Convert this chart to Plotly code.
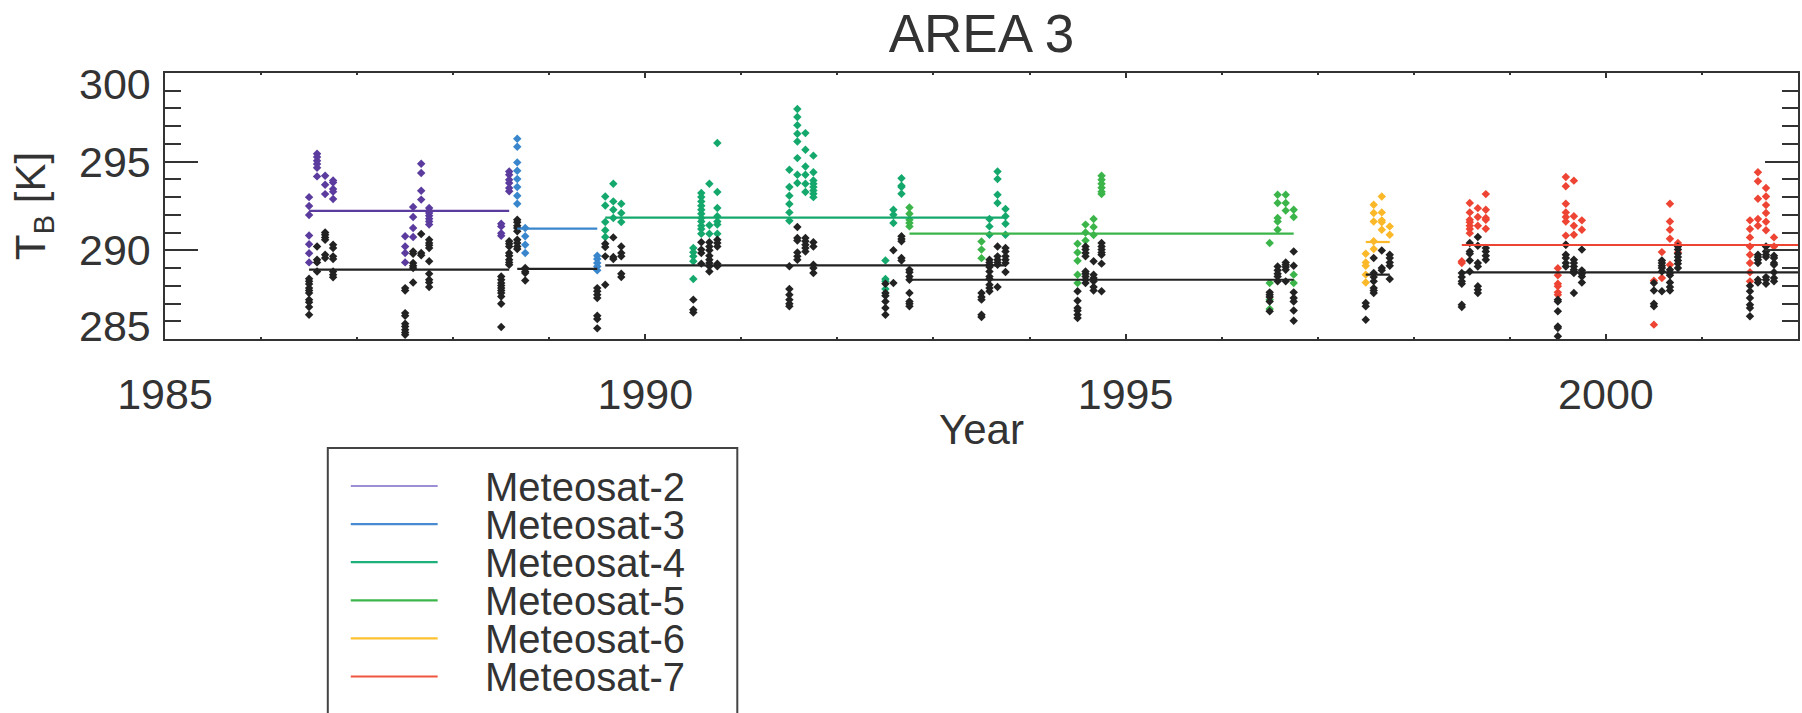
import plotly.graph_objects as go

# ---------------- data ----------------
title_text = "AREA 3"
x_tick_years = [1985, 1990, 1995, 2000]
y_tick_values = [300, 295, 290, 285]

sat_names = ["Meteosat-2", "Meteosat-3", "Meteosat-4", "Meteosat-5", "Meteosat-6", "Meteosat-7"]

# satellite brightness temperatures, one list per monthly column
m2_time = [1986.50, 1986.583, 1986.667, 1986.75, 1987.50, 1987.583, 1987.667, 1987.75, 1988.50, 1988.583]
m2_tb = [
    [293.00, 292.50, 291.99, 290.84, 290.34, 289.83, 289.32],
    [295.45, 295.26, 295.05, 294.87, 294.66, 294.17],
    [294.21, 293.70, 293.17],
    [293.94, 293.83, 293.46, 293.31, 292.89],
    [290.79, 290.22, 289.85, 289.32],
    [292.44, 291.88, 291.26, 290.75],
    [294.88, 294.36, 293.36, 292.86],
    [292.39, 292.23, 292.10, 291.95, 291.78, 291.63, 291.45],
    [291.50, 291.35, 290.97, 290.82],
    [294.45, 294.26, 293.98, 293.80, 293.51, 293.33],
]
m3_time = [1988.667, 1988.75, 1989.50]
m3_tb = [
    [296.29, 295.84, 294.96, 294.49, 294.02, 293.57, 293.08, 292.63],
    [291.26, 290.79, 290.32, 289.85],
    [289.70, 289.51, 289.28, 289.09, 288.87],
]
m4_time = [1989.583, 1989.667, 1989.75, 1990.50, 1990.583, 1990.667, 1990.75,
           1991.50, 1991.583, 1991.667, 1991.75, 1992.50, 1992.583, 1992.667,
           1993.583, 1993.667, 1993.75]
m4_tb = [
    [293.04, 292.53, 291.60, 291.13, 290.75],
    [293.76, 292.76, 292.29, 291.82],
    [292.63, 292.10, 291.60],
    [290.13, 289.89, 289.66, 289.38, 288.38],
    [293.23, 293.01, 292.76, 292.52, 292.29, 292.06, 291.82, 291.63, 291.39, 291.20, 290.94],
    [293.76, 291.41, 290.94],
    [296.05, 293.29, 292.39, 291.92, 291.63, 291.45, 290.94],
    [294.55, 293.57, 293.08, 292.61, 292.14, 291.67],
    [297.97, 297.52, 297.05, 296.58, 296.14, 295.20, 294.26, 293.80],
    [296.61, 295.67, 294.73, 294.26, 293.76, 293.29],
    [295.34, 294.40, 293.94, 293.76, 293.57, 293.38, 293.19, 293.00],
    [289.43, 288.38, 288.25, 287.82],
    [292.29, 292.01, 291.54],
    [294.06, 293.64, 293.57, 293.19],
    [291.77, 291.35, 290.88],
    [294.45, 294.02, 293.14, 292.67],
    [292.33, 291.92, 291.50, 290.88],
]
m5_time = [1992.75, 1993.50, 1994.50, 1994.583, 1994.667, 1994.75,
           1996.50, 1996.583, 1996.667, 1996.75]
m5_tb = [
    [292.42, 292.06, 291.73, 291.54, 291.35],
    [290.50, 290.04, 289.56],
    [290.37, 289.88, 289.41, 288.62, 288.16],
    [291.45, 291.01, 290.56],
    [291.77, 291.31, 290.86],
    [294.21, 293.98, 293.76, 293.53, 293.31, 293.17],
    [290.41, 288.16, 287.22, 286.69],
    [293.14, 292.67, 291.82, 291.63, 291.16],
    [293.14, 292.67, 292.24],
    [292.29, 291.88, 288.63, 288.16],
]
m6_time = [1997.50, 1997.583, 1997.667, 1997.75]
m6_tb = [
    [289.81, 289.32, 289.13, 288.63, 288.19],
    [292.57, 292.10, 291.63, 290.51, 290.07],
    [293.04, 292.14, 291.69, 291.58, 291.16],
    [291.35, 290.88],
]
m7_time = [1998.50, 1998.583, 1998.667, 1998.75, 1999.50, 1999.583, 1999.667, 1999.75,
           2000.50, 2000.583, 2000.667, 2000.75, 2001.50, 2001.583, 2001.667, 2001.75]
m7_tb = [
    [289.38, 289.28],
    [292.67, 292.14, 291.73, 291.58, 291.39, 291.20, 290.97],
    [292.38, 291.88, 291.39],
    [293.17, 292.29, 291.82, 291.73, 291.22],
    [288.99, 288.59, 288.12, 287.97, 287.63, 287.50],
    [294.13, 293.61, 292.63, 292.14, 291.88, 291.63, 290.83, 290.32],
    [293.93, 291.92, 291.39, 290.88],
    [291.69, 291.16],
    [288.29, 285.81],
    [289.90, 288.44],
    [292.63, 291.63, 291.16, 290.65, 289.19],
    [290.41, 289.88],
    [291.69, 291.20, 290.73, 290.22, 289.75, 289.28, 288.76, 288.25],
    [294.40, 293.89, 292.91, 291.77, 291.39],
    [293.51, 293.04, 292.55, 292.10, 291.61, 291.13],
    [290.73, 290.22],
]

# reference (black) values, one list per monthly column
ref_time = [1986.50, 1986.583, 1986.667, 1986.75, 1987.50, 1987.583, 1987.667, 1987.75,
            1988.50, 1988.583, 1988.667, 1988.75, 1989.50, 1989.583, 1989.667, 1989.75,
            1990.50, 1990.583, 1990.667, 1990.75, 1991.50, 1991.583, 1991.667, 1991.75,
            1992.50, 1992.583, 1992.667, 1992.75, 1993.50, 1993.583, 1993.667, 1993.75,
            1994.50, 1994.583, 1994.667, 1994.75, 1996.50, 1996.583, 1996.667, 1996.75,
            1997.50, 1997.583, 1997.667, 1997.75, 1998.50, 1998.583, 1998.667, 1998.75,
            1999.50, 1999.583, 1999.667, 1999.75, 2000.50, 2000.583, 2000.667, 2000.75,
            2001.50, 2001.583, 2001.667, 2001.75]
ref_tb = [
    [288.40, 288.25, 288.10, 287.87, 287.74, 287.59, 287.22, 287.07, 286.80, 286.37],
    [290.22, 289.47, 289.32, 288.81],
    [291.01, 290.88, 290.73, 290.60, 289.75, 289.57],
    [290.32, 290.13, 289.66, 289.51, 288.81, 288.63, 288.48],
    [287.87, 287.74, 286.46, 286.31, 285.86, 285.71, 285.52, 285.37, 285.24],
    [289.94, 289.81, 289.28, 289.13, 289.00, 288.19],
    [290.92, 289.85, 289.72],
    [290.60, 290.41, 290.28, 290.13, 289.38, 288.68, 288.34, 288.19, 287.93],
    [288.53, 288.34, 288.16, 288.01, 287.87, 287.74, 287.59, 287.40, 286.99, 285.68],
    [290.51, 290.37, 290.22, 289.85, 289.70, 289.47, 289.32, 289.19],
    [291.73, 291.58, 291.39, 291.26, 291.07, 290.60, 290.41, 290.22, 290.07],
    [289.00, 288.81, 288.72, 288.30],
    [287.87, 287.69, 287.50, 287.31, 286.31, 286.13, 285.60],
    [290.37, 290.19, 289.66, 288.06],
    [290.73, 289.62, 289.51],
    [290.22, 289.85, 289.66, 288.68, 288.49],
    [287.22, 286.65, 286.50],
    [290.45, 290.04, 289.85, 289.25],
    [290.45, 290.22, 290.00, 289.70, 289.47, 289.28, 289.10, 288.81],
    [290.60, 290.41, 290.22, 289.25, 289.10],
    [289.10, 287.82, 287.50, 287.22, 286.99, 286.84],
    [291.31, 290.69, 290.56, 289.88, 289.66, 289.47],
    [290.69, 290.51, 290.32, 290.13, 289.94],
    [290.45, 290.22, 289.19, 289.00, 288.72],
    [288.12, 287.59, 287.44, 287.12, 286.75, 286.37],
    [290.00, 288.16],
    [290.79, 290.64, 290.51, 289.57, 289.43],
    [288.91, 288.76, 288.53, 288.34, 287.59, 287.12, 286.99, 286.84],
    [287.59, 287.37, 287.22, 286.37, 286.24],
    [289.47, 289.32, 289.19, 289.06, 288.81, 288.53, 288.38, 288.06, 287.87, 287.69],
    [290.22, 289.66, 289.47, 289.32, 289.19, 287.93],
    [290.13, 289.94, 289.66, 289.47, 289.28, 288.78],
    [287.69, 287.16, 286.75, 286.60, 286.37, 286.18],
    [290.22, 290.04, 289.85, 289.66, 288.81, 288.68, 288.53, 288.34, 288.16],
    [289.38, 288.63, 288.44, 288.25, 287.93, 287.74],
    [290.41, 290.22, 290.04, 289.88, 289.75, 289.25, 287.69],
    [287.63, 287.50, 287.37, 287.12, 286.56],
    [289.09, 288.87, 288.68, 288.53, 288.25],
    [289.32, 289.19, 289.06, 288.91, 288.25],
    [289.94, 289.13, 287.63, 287.31, 287.12, 286.61, 286.03],
    [287.03, 286.84, 286.09],
    [289.57, 288.72, 288.49, 288.25, 287.87, 287.74, 287.59],
    [289.99, 289.00, 288.87],
    [289.75, 289.57, 289.32, 289.13, 288.38],
    [288.72, 288.49, 288.25, 288.12, 286.93, 286.80],
    [290.41, 289.94, 289.81, 289.43, 288.81],
    [290.75, 290.26, 289.28, 289.09, 287.97, 287.78, 287.59],
    [290.13, 289.94, 289.70, 289.47],
    [287.22, 287.12, 286.56, 285.71, 285.62, 285.15],
    [290.32, 289.75, 289.57, 289.28, 289.09],
    [289.47, 289.28, 289.09, 288.91, 288.81, 288.72, 287.59],
    [290.04, 288.87, 288.68, 288.53, 288.19],
    [288.16, 287.74, 286.99, 286.84],
    [289.43, 289.28, 289.13, 289.00, 288.81, 287.69],
    [288.91, 288.72, 288.59, 288.19, 287.93, 287.74],
    [290.22, 290.04, 289.81, 289.62, 289.43, 289.25, 289.00],
    [288.00, 287.69, 287.31, 286.93, 286.75, 286.28],
    [289.75, 289.62, 289.47, 289.28, 288.34, 288.19],
    [290.22, 289.94, 289.75, 289.62, 288.49, 288.34, 288.12],
    [289.70, 289.57, 289.28, 289.19, 288.76, 288.44, 288.25],
]

# per-satellite period means (horizontal lines)
seg_start = [1986.50, 1988.667, 1989.583, 1992.75, 1997.50, 1998.50]
seg_end = [1988.583, 1989.50, 1993.75, 1996.75, 1997.75, 2002.0]
sat_mean = [292.23, 291.22, 291.85, 290.94, 290.47, 290.30]
ref_mean = [288.91, 288.96, 289.15, 288.34, 288.63, 288.76]

# ---------------- styling ----------------
sat_colors = ["#5b3c9e", "#3a86cc", "#14a86c", "#3bb54a", "#fbb828", "#ee4433"]
legend_colors = ["#9d8fd4", "#4a8ad0", "#1db07a", "#3cb64a", "#fcc030", "#f0553f"]
ref_color = "#222222"
ink = "#333333"
FONT = "Liberation Sans, Arial, Helvetica, sans-serif"

W, H = 1802, 713
PL, PR, PT, PB = 165, 1800, 73, 339


def xp(px):
    return (px - PL) / (PR - PL)


def yp(py):
    return (PB - py) / (PB - PT)


def flatten(times, vals):
    xs, ys = [], []
    for t, v in zip(times, vals):
        xs += [t] * len(v)
        ys += list(v)
    return xs, ys


fig = go.Figure()

sat_data = [(m2_time, m2_tb), (m3_time, m3_tb), (m4_time, m4_tb),
            (m5_time, m5_tb), (m6_time, m6_tb), (m7_time, m7_tb)]
for name, color, (t, v) in zip(sat_names, sat_colors, sat_data):
    xs, ys = flatten(t, v)
    fig.add_trace(go.Scatter(x=xs, y=ys, mode="markers", name=name, showlegend=False,
                             marker=dict(symbol="diamond", size=6.5, color=color, line=dict(width=0))))

rx, ry = flatten(ref_time, ref_tb)
fig.add_trace(go.Scatter(x=rx, y=ry, mode="markers", name="reference", showlegend=False,
                         marker=dict(symbol="diamond", size=6.5, color=ref_color, line=dict(width=0))))

for i in range(len(sat_names)):
    fig.add_trace(go.Scatter(x=[seg_start[i], seg_end[i]], y=[sat_mean[i]] * 2, mode="lines",
                             showlegend=False, line=dict(color=sat_colors[i], width=2.2)))
    fig.add_trace(go.Scatter(x=[seg_start[i], seg_end[i]], y=[ref_mean[i]] * 2, mode="lines",
                             showlegend=False, line=dict(color=ref_color, width=2.2)))

annotations = []
# y tick labels (outer ones nudged inward as in the original)
y_label_shift = {300: -11, 295: 0, 290: 0, 285: 13}
for v in y_tick_values:
    annotations.append(dict(x=0, xref="paper", xanchor="right", xshift=-12,
                            y=v, yref="y", yanchor="middle", yshift=y_label_shift[v],
                            text=str(v), showarrow=False,
                            font=dict(size=43, color=ink, family=FONT)))
# axis titles
annotations.append(dict(x=xp(33), xref="paper", y=0.5, yref="paper", xanchor="center", yanchor="middle",
                        text="T<sub>B</sub> [K]", textangle=-90, showarrow=False,
                        font=dict(size=42, color=ink, family=FONT)))
annotations.append(dict(x=0.5, xref="paper", y=yp(429), yref="paper", xanchor="center", yanchor="middle",
                        text="Year", showarrow=False, font=dict(size=42, color=ink, family=FONT)))

shapes = [dict(type="rect", xref="paper", yref="paper", x0=xp(328), x1=xp(738), y0=yp(448), y1=yp(740),
               line=dict(color="#444444", width=2), fillcolor="rgba(0,0,0,0)", layer="above")]
for i, (name, lc) in enumerate(zip(sat_names, legend_colors)):
    ypix = 486 + 38.1 * i
    shapes.append(dict(type="line", xref="paper", yref="paper", x0=xp(351), x1=xp(438),
                       y0=yp(ypix), y1=yp(ypix), line=dict(color=lc, width=2.2)))
    annotations.append(dict(x=xp(483), xref="paper", xanchor="left", y=yp(ypix), yref="paper",
                            yanchor="middle", height=37, valign="middle", text=name, showarrow=False,
                            font=dict(size=40, color=ink, family=FONT)))

fig.update_layout(
    width=W, height=H,
    margin=dict(l=PL, r=W - PR, t=PT, b=H - PB),
    paper_bgcolor="white", plot_bgcolor="white",
    showlegend=False,
    title=dict(text=title_text, x=0.5, xref="paper", xanchor="center",
               y=1 - 33.5 / H, yref="container", yanchor="middle",
               font=dict(size=53, color=ink, family=FONT)),
    font=dict(family=FONT, color=ink),
    annotations=annotations,
    shapes=shapes,
)
fig.update_xaxes(range=[1985, 2002], showgrid=False, zeroline=False,
                 showline=True, linecolor=ink, linewidth=2, mirror="ticks",
                 ticks="inside", tickvals=x_tick_years, ticktext=[str(v) for v in x_tick_years],
                 ticklen=5, tickwidth=2, tickcolor=ink,
                 minor=dict(ticks="inside", dtick=1, ticklen=2, tickwidth=2, tickcolor=ink),
                 tickfont=dict(size=43, color=ink, family=FONT), ticklabelstandoff=16)
fig.update_yaxes(range=[285, 300], showgrid=False, zeroline=False,
                 showline=True, linecolor=ink, linewidth=2, mirror="ticks",
                 ticks="inside", tickvals=y_tick_values, showticklabels=False,
                 ticklen=33, tickwidth=2, tickcolor=ink,
                 minor=dict(ticks="inside", dtick=1, ticklen=16, tickwidth=2, tickcolor=ink))

fig.write_html("out.html")
